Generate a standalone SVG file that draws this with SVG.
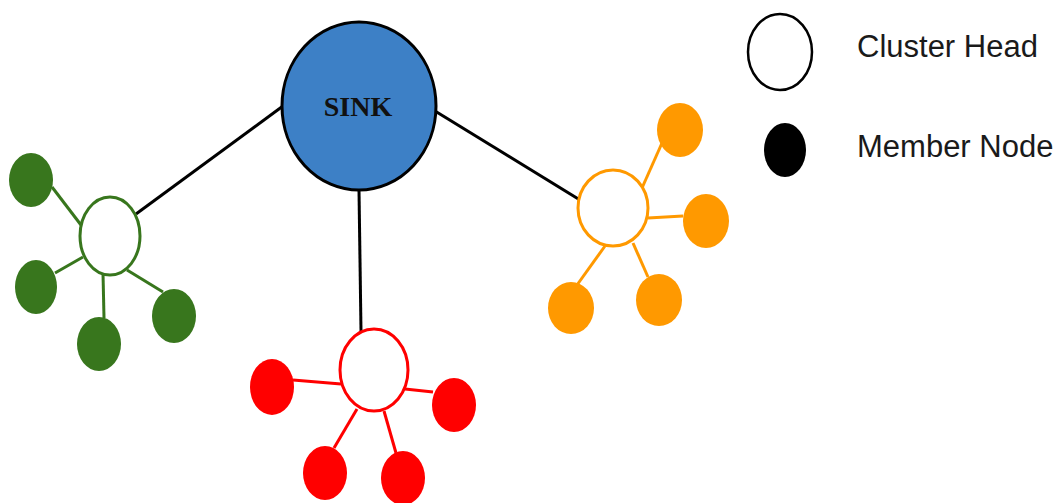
<svg xmlns="http://www.w3.org/2000/svg" width="1060" height="503" viewBox="0 0 1060 503">
<style>
.bk{stroke:#000;stroke-width:3;fill:none}
.g{stroke:#38761d;stroke-width:3}
.r{stroke:#ff0000;stroke-width:3}
.o{stroke:#ff9900;stroke-width:3}
.ch{fill:#fff;stroke-width:3}
.gf{fill:#38761d}
.rf{fill:#ff0000}
.of{fill:#ff9900}
.lbl{font-family:"Liberation Sans",Arial,sans-serif;font-size:31px;fill:#1a1a1a}
</style>
<rect width="1060" height="503" fill="#fff"/>
<g id="connectors">
<line class="bk" x1="283" y1="106" x2="136" y2="214"/>
<line class="bk" x1="359" y1="190" x2="361" y2="331"/>
<line class="bk" x1="435" y1="111" x2="580" y2="200"/>
<line class="g" x1="52" y1="187" x2="81" y2="225"/>
<line class="g" x1="55" y1="273" x2="83" y2="257"/>
<line class="g" x1="103" y1="273" x2="104" y2="318"/>
<line class="g" x1="127" y1="270" x2="163" y2="292"/>
<line class="r" x1="293" y1="380" x2="341" y2="384"/>
<line class="r" x1="405" y1="389" x2="433" y2="392"/>
<line class="r" x1="357" y1="409" x2="334" y2="448"/>
<line class="r" x1="384" y1="411" x2="396" y2="453"/>
<line class="o" x1="642" y1="188" x2="662" y2="143"/>
<line class="o" x1="648" y1="218" x2="683" y2="216"/>
<line class="o" x1="605" y1="246" x2="577" y2="285"/>
<line class="o" x1="633" y1="243" x2="648" y2="277"/>
</g>
<g id="sink">
<ellipse cx="359" cy="106" rx="77" ry="84" fill="#3d80c6" stroke="#000" stroke-width="3"/>
<text x="358" y="116" text-anchor="middle" font-family="'Liberation Serif','Times New Roman',serif" font-weight="bold" font-size="28" fill="#111">SINK</text>
</g>
<g id="green-cluster">
<ellipse class="ch g" cx="110" cy="236" rx="30" ry="39"/>
<ellipse class="gf" cx="31" cy="180" rx="22" ry="27"/>
<ellipse class="gf" cx="36" cy="287" rx="21" ry="27"/>
<ellipse class="gf" cx="99" cy="344" rx="22" ry="27"/>
<ellipse class="gf" cx="174" cy="316" rx="22" ry="27"/>
</g>
<g id="red-cluster">
<ellipse class="ch r" cx="374" cy="370" rx="34" ry="41"/>
<ellipse class="rf" cx="272" cy="387" rx="22" ry="28"/>
<ellipse class="rf" cx="454" cy="405" rx="22" ry="27"/>
<ellipse class="rf" cx="325" cy="473" rx="22" ry="27"/>
<ellipse class="rf" cx="403" cy="478" rx="22" ry="27"/>
</g>
<g id="orange-cluster">
<ellipse class="ch o" cx="613" cy="208" rx="35" ry="38"/>
<ellipse class="of" cx="680" cy="130" rx="23" ry="27"/>
<ellipse class="of" cx="706" cy="221" rx="23" ry="27"/>
<ellipse class="of" cx="571" cy="308" rx="23" ry="26"/>
<ellipse class="of" cx="659" cy="300" rx="23" ry="26"/>
</g>
<g id="legend-cluster-head">
<ellipse cx="780" cy="52" rx="32" ry="38" fill="#fff" stroke="#000" stroke-width="2.5"/>
<text class="lbl" x="857" y="57">Cluster Head</text>
</g>
<g id="legend-member-node">
<ellipse cx="785" cy="150" rx="21" ry="27" fill="#000"/>
<text class="lbl" x="857" y="157">Member Node</text>
</g>
</svg>
